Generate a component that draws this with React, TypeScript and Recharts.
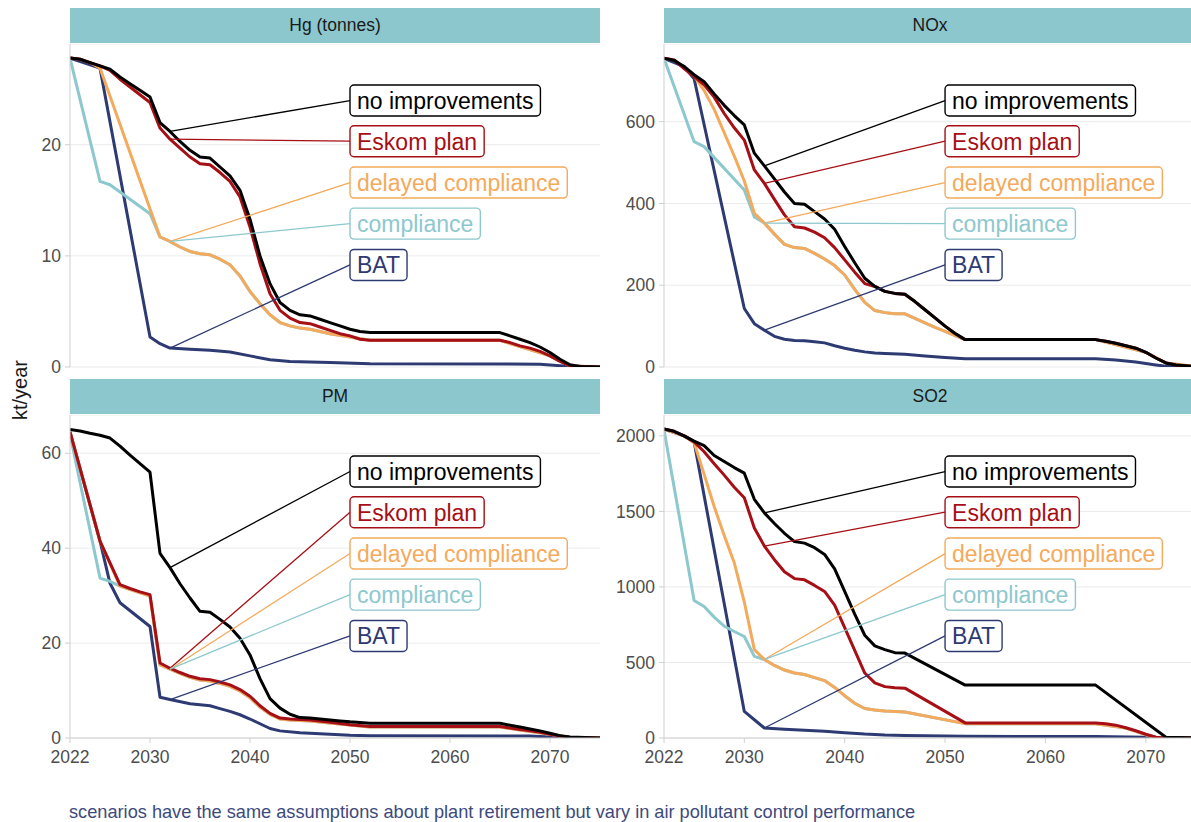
import React, { useLayoutEffect, useRef, useState } from 'react'
import { LineChart, Line, XAxis, YAxis, CartesianGrid, ReferenceLine, ReferenceDot } from 'recharts'

type Pt = [number, number]

const scenarios = ['no improvements', 'Eskom plan', 'delayed compliance', 'compliance', 'BAT']
const colors = ['#000000', '#a50f15', '#f4aa5c', '#8dc8ce', '#2e3a72']
const yearTicks = [2022, 2030, 2040, 2050, 2060, 2070]
const labelYear = 2032 // leaders point at the 2032 value

// Hg (tonnes)
const hgNoImprovements: Pt[] = [[2022, 27.8], [2023, 27.7], [2024, 27.4], [2025, 27.1], [2026, 26.8], [2027, 26.1], [2028, 25.5], [2029, 24.9], [2030, 24.3], [2031, 22.0], [2032, 21.2], [2033, 20.3], [2034, 19.5], [2035, 18.9], [2036, 18.8], [2037, 18.0], [2038, 17.2], [2039, 15.9], [2040, 13.3], [2041, 10.0], [2042, 7.5], [2043, 5.8], [2044, 5.1], [2045, 4.7], [2046, 4.6], [2047, 4.3], [2048, 4.0], [2049, 3.7], [2050, 3.4], [2051, 3.2], [2052, 3.1], [2065, 3.1], [2066, 2.8], [2067, 2.5], [2068, 2.2], [2069, 1.8], [2070, 1.3], [2071, 0.7], [2072, 0.2], [2073, 0.05], [2075, 0]]
const hgEskom: Pt[] = [[2022, 27.8], [2023, 27.7], [2024, 27.4], [2025, 27.1], [2026, 26.7], [2027, 25.9], [2028, 25.2], [2029, 24.5], [2030, 23.8], [2031, 21.5], [2032, 20.5], [2033, 19.7], [2034, 18.9], [2035, 18.3], [2036, 18.2], [2037, 17.5], [2038, 16.7], [2039, 15.3], [2040, 12.6], [2041, 9.3], [2042, 6.6], [2043, 5.1], [2044, 4.4], [2045, 4.0], [2046, 3.9], [2047, 3.6], [2048, 3.3], [2049, 3.0], [2050, 2.8], [2051, 2.5], [2052, 2.4], [2065, 2.4], [2066, 2.2], [2067, 1.9], [2068, 1.7], [2069, 1.4], [2070, 1.0], [2071, 0.5], [2072, 0.1], [2075, 0]]
const hgDelayed: Pt[] = [[2022, 27.8], [2023, 27.7], [2024, 27.4], [2025, 26.9], [2031, 11.7], [2032, 11.3], [2033, 10.8], [2034, 10.4], [2035, 10.2], [2036, 10.1], [2037, 9.7], [2038, 9.2], [2039, 8.2], [2040, 6.8], [2041, 5.7], [2042, 4.7], [2043, 4.0], [2044, 3.7], [2045, 3.5], [2046, 3.4], [2048, 3.0], [2050, 2.7], [2052, 2.4], [2065, 2.4], [2070, 1.0], [2072, 0.1], [2075, 0]]
const hgCompliance: Pt[] = [[2022, 27.8], [2025, 16.7], [2026, 16.4], [2030, 13.8], [2031, 11.7], [2032, 11.3], ...hgDelayed.filter(([y]) => y > 2032)]
const hgBat: Pt[] = [[2022, 27.8], [2025, 26.9], [2030, 2.7], [2031, 2.1], [2032, 1.7], [2034, 1.6], [2036, 1.5], [2038, 1.35], [2040, 1.0], [2042, 0.65], [2044, 0.5], [2048, 0.4], [2052, 0.3], [2069, 0.25], [2072, 0.05], [2075, 0]]
const hgTicks = [0, 10, 20]

// NOx
const noxNoImprovements: Pt[] = [[2022, 755], [2023, 750], [2024, 735], [2025, 715], [2026, 698], [2027, 668], [2028, 640], [2029, 615], [2030, 592], [2031, 523], [2032, 492], [2033, 460], [2034, 428], [2035, 400], [2036, 398], [2037, 380], [2038, 362], [2039, 337], [2040, 295], [2041, 255], [2042, 217], [2043, 197], [2044, 185], [2045, 180], [2046, 178], [2047, 160], [2048, 140], [2049, 120], [2050, 100], [2051, 82], [2052, 67], [2065, 67], [2066, 63], [2067, 58], [2068, 52], [2069, 46], [2070, 36], [2071, 22], [2072, 10], [2073, 5], [2075, 1]]
const noxEskom: Pt[] = [[2022, 755], [2023, 751], [2024, 730], [2025, 710], [2026, 690], [2027, 660], [2028, 620], [2029, 585], [2030, 555], [2031, 482], [2032, 449], [2033, 410], [2034, 372], [2035, 343], [2036, 340], [2037, 330], [2038, 316], [2039, 292], [2040, 262], [2041, 232], [2042, 204], [2043, 197], [2044, 185], [2045, 180], [2046, 178], [2047, 160], [2048, 140], [2049, 120], [2050, 100], [2051, 82], [2052, 67], [2065, 67], [2066, 63], [2067, 58], [2068, 52], [2069, 46], [2070, 36], [2071, 22], [2072, 10], [2073, 5], [2075, 1]]
const noxDelayed: Pt[] = [[2022, 755], [2023, 751], [2024, 733], [2025, 712], [2026, 676], [2027, 630], [2028, 573], [2029, 516], [2030, 455], [2031, 376], [2032, 352], [2033, 325], [2034, 300], [2035, 292], [2036, 290], [2037, 278], [2038, 264], [2039, 248], [2040, 225], [2041, 190], [2042, 158], [2043, 138], [2044, 133], [2045, 130], [2046, 130], [2047, 119], [2048, 108], [2049, 97], [2050, 87], [2051, 77], [2052, 67], [2065, 67], [2070, 36], [2072, 10], [2075, 1]]
const noxCompliance: Pt[] = [[2022, 755], [2025, 551], [2026, 539], [2030, 433], [2031, 367], [2032, 352], ...noxDelayed.filter(([y]) => y > 2032)]
const noxBat: Pt[] = [[2022, 755], [2024, 735], [2025, 705], [2030, 143], [2031, 106], [2032, 90], [2033, 75], [2034, 68], [2035, 65], [2036, 64], [2037, 62], [2038, 59], [2039, 52], [2040, 46], [2041, 41], [2042, 37], [2043, 34], [2044, 33], [2046, 31], [2048, 27], [2050, 23], [2052, 20], [2065, 20], [2067, 17], [2069, 12], [2071, 5], [2072, 2], [2075, 0]]
const noxTicks = [0, 200, 400, 600]

// PM
const pmNoImprovements: Pt[] = [[2022, 65], [2023, 64.7], [2024, 64.2], [2025, 63.8], [2026, 63.2], [2027, 61.5], [2028, 59.6], [2029, 57.8], [2030, 56.0], [2031, 38.9], [2032, 35.9], [2033, 32.5], [2034, 29.5], [2035, 26.7], [2036, 26.5], [2037, 25.0], [2038, 23.4], [2039, 21.0], [2040, 17.5], [2041, 12.5], [2042, 8.3], [2043, 6.3], [2044, 5.0], [2045, 4.3], [2046, 4.2], [2047, 4.0], [2048, 3.8], [2049, 3.6], [2050, 3.4], [2052, 3.1], [2065, 3.1], [2066, 2.7], [2067, 2.3], [2068, 1.9], [2069, 1.5], [2070, 1.0], [2071, 0.5], [2072, 0.2], [2075, 0]]
const pmEskom: Pt[] = [[2022, 64.5], [2025, 41.5], [2027, 32.3], [2028, 31.5], [2029, 30.8], [2030, 30.2], [2031, 15.8], [2032, 14.7], [2033, 13.8], [2034, 13.0], [2035, 12.5], [2036, 12.3], [2037, 11.8], [2038, 11.2], [2039, 10.2], [2040, 8.8], [2041, 6.8], [2042, 5.2], [2043, 4.2], [2044, 4.0], [2045, 3.9], [2046, 3.8], [2048, 3.3], [2050, 2.8], [2052, 2.4], [2065, 2.4], [2066, 2.1], [2067, 1.8], [2068, 1.5], [2069, 1.2], [2070, 0.8], [2071, 0.4], [2072, 0.1], [2075, 0]]
const pmDelayed: Pt[] = [[2022, 64.5], [2025, 41.5], [2027, 32.0], [2030, 29.9], [2031, 15.4], [2032, 14.5], [2033, 13.6], [2034, 12.8], [2035, 12.2], [2036, 12.0], [2037, 11.5], [2038, 10.9], [2039, 9.9], [2040, 8.5], [2041, 6.5], [2042, 5.0], [2043, 4.0], [2044, 3.8], [2045, 3.7], [2046, 3.6], [2052, 2.3], [2065, 2.3], [2070, 0.8], [2072, 0.1], [2075, 0]]
const pmCompliance: Pt[] = [[2022, 64.0], [2025, 33.7], [2026, 33.0], [2027, 32.0], ...pmDelayed.filter(([y]) => y >= 2030)]
const pmBat: Pt[] = [[2022, 64.5], [2025, 41.5], [2026, 32.6], [2027, 28.5], [2030, 23.5], [2031, 8.6], [2032, 8.1], [2034, 7.2], [2035, 7.0], [2036, 6.8], [2037, 6.2], [2038, 5.6], [2039, 4.9], [2040, 4.0], [2041, 3.0], [2042, 2.0], [2043, 1.5], [2045, 1.1], [2050, 0.6], [2052, 0.5], [2068, 0.4], [2070, 0.2], [2072, 0.05], [2075, 0]]
const pmTicks = [0, 20, 40, 60]

// SO2
const so2NoImprovements: Pt[] = [[2022, 2045], [2023, 2030], [2024, 2000], [2025, 1965], [2026, 1935], [2027, 1870], [2028, 1830], [2029, 1790], [2030, 1753], [2031, 1580], [2032, 1490], [2033, 1420], [2034, 1355], [2035, 1300], [2036, 1290], [2037, 1260], [2038, 1215], [2039, 1120], [2040, 970], [2041, 820], [2042, 680], [2043, 610], [2044, 585], [2045, 565], [2046, 562], [2052, 350], [2065, 350], [2072, 5], [2075, 0]]
const so2Eskom: Pt[] = [[2022, 2045], [2023, 2030], [2024, 2000], [2025, 1960], [2026, 1895], [2027, 1815], [2028, 1740], [2029, 1660], [2030, 1590], [2031, 1390], [2032, 1270], [2033, 1180], [2034, 1100], [2035, 1055], [2036, 1047], [2037, 1010], [2038, 970], [2039, 880], [2040, 730], [2041, 580], [2042, 430], [2043, 365], [2044, 340], [2045, 332], [2046, 330], [2052, 100], [2065, 100], [2066, 95], [2067, 85], [2068, 68], [2069, 48], [2070, 25], [2071, 5], [2072, 0], [2075, 0]]
const so2Delayed: Pt[] = [[2022, 2045], [2024, 2000], [2025, 1955], [2026, 1745], [2027, 1532], [2028, 1340], [2029, 1160], [2030, 900], [2031, 585], [2032, 520], [2033, 480], [2034, 450], [2035, 430], [2036, 420], [2037, 400], [2038, 380], [2039, 335], [2040, 280], [2041, 230], [2042, 195], [2043, 185], [2044, 178], [2045, 175], [2046, 172], [2052, 95], [2065, 95], [2068, 66], [2070, 22], [2071, 5], [2072, 0], [2075, 0]]
const so2Compliance: Pt[] = [[2022, 2040], [2025, 910], [2026, 870], [2027, 800], [2028, 740], [2029, 705], [2030, 672], [2031, 540], [2032, 520], ...so2Delayed.filter(([y]) => y > 2032)]
const so2Bat: Pt[] = [[2022, 2045], [2024, 2000], [2025, 1960], [2030, 176], [2031, 121], [2032, 66], [2034, 58], [2036, 52], [2038, 44], [2040, 35], [2042, 26], [2044, 20], [2046, 17], [2052, 11], [2065, 10], [2070, 5], [2072, 0], [2075, 0]]
const so2Ticks = [0, 500, 1000, 1500, 2000]

const FONT = "'Liberation Sans', Arial, Helvetica, sans-serif"
const AXIS_GREY = '#cfcfcf'
const STRIP_FILL = '#8cc7cd'

// layout (px)
const CHART_X = [0, 600]
const CHART_W = [600, 596]
const Y_AXIS_W = [70, 64]
const STRIP_X = [70, 664]
const STRIP_W = [530, 532]
const STRIP_TOP = [8, 379]
const STRIP_H = 35
const CHART_TOP = [44, 415]
const PLOT_H = 323
const X_AXIS_H = 45
const TOP_PAD = 12 // room under the top panels for the "0" tick label
const LABEL_ROWS = [0.175, 0.301, 0.429, 0.556, 0.684] // fraction of plot height, from the top
const LABEL_YEAR_X = 2050

interface PanelDef {
  title: string
  series: Pt[][]
  yMax: number
  yTicks: number[]
  col: number
  row: number
}

const panels: PanelDef[] = [
  { title: 'Hg (tonnes)', series: [hgNoImprovements, hgEskom, hgDelayed, hgCompliance, hgBat], yMax: 29.07, yTicks: hgTicks, col: 0, row: 0 },
  { title: 'NOx', series: [noxNoImprovements, noxEskom, noxDelayed, noxCompliance, noxBat], yMax: 790, yTicks: noxTicks, col: 1, row: 0 },
  { title: 'PM', series: [pmNoImprovements, pmEskom, pmDelayed, pmCompliance, pmBat], yMax: 68.06, yTicks: pmTicks, col: 0, row: 1 },
  { title: 'SO2', series: [so2NoImprovements, so2Eskom, so2Delayed, so2Compliance, so2Bat], yMax: 2138, yTicks: so2Ticks, col: 1, row: 1 },
]

function LabelBox({ cx, cy, text, color }: { cx: number; cy: number; text: string; color: string }) {
  const ref = useRef<SVGTextElement>(null)
  const [w, setW] = useState(0)
  useLayoutEffect(() => {
    if (ref.current) setW(ref.current.getBBox().width)
  }, [text])
  const padX = 7
  const h = 31
  return (
    <g>
      <rect x={cx} y={cy - h / 2} width={w + padX * 2} height={h} rx={4} ry={4} fill="#ffffff" stroke={color} strokeWidth={1.4} />
      <text ref={ref} x={cx + padX} y={cy} dy="0.36em" fontSize={23} fill={color} fontFamily={FONT}>{text}</text>
    </g>
  )
}

function Panel({ p }: { p: PanelDef }) {
  const bottom = p.row === 1
  const drawOrder = [4, 3, 2, 1, 0]
  const tickStyle = { fontSize: 17.5, fill: '#4d4d4d', fontFamily: FONT }
  return (
    <>
      <div style={{ position: 'absolute', left: STRIP_X[p.col], top: STRIP_TOP[p.row], width: STRIP_W[p.col], height: STRIP_H, background: STRIP_FILL, display: 'flex', alignItems: 'center', justifyContent: 'center', fontSize: 17.5, color: '#1a1a1a', fontFamily: FONT }}>
        {p.title}
      </div>
      <div style={{ position: 'absolute', left: CHART_X[p.col], top: CHART_TOP[p.row] }}>
        <LineChart
          width={CHART_W[p.col]}
          height={PLOT_H + (bottom ? X_AXIS_H : TOP_PAD)}
          margin={{ top: 0, right: 0, bottom: bottom ? 0 : TOP_PAD, left: 0 }}
        >
          <CartesianGrid vertical={false} stroke="#ebebeb" strokeWidth={1} />
          <XAxis
            type="number" dataKey="year" domain={[2022, 2075]} ticks={yearTicks} allowDataOverflow interval={0}
            hide={!bottom} height={bottom ? X_AXIS_H : 0}
            tick={tickStyle} tickSize={5} tickMargin={8}
            tickLine={{ stroke: AXIS_GREY }} axisLine={{ stroke: AXIS_GREY }}
          />
          <YAxis
            type="number" domain={[0, p.yMax]} ticks={p.yTicks} allowDataOverflow interval={0} width={Y_AXIS_W[p.col]}
            tick={tickStyle} tickSize={5} tickMargin={4}
            tickLine={{ stroke: AXIS_GREY }} axisLine={{ stroke: AXIS_GREY }}
          />
          {drawOrder.map(i => (
            <Line
              key={scenarios[i]}
              data={p.series[i].map(([year, v]) => ({ year, v }))}
              dataKey="v" type="linear" stroke={colors[i]} strokeWidth={3}
              strokeLinejoin="round" dot={false} activeDot={false} isAnimationActive={false}
            />
          ))}
          {scenarios.map((s, i) => {
            const end = p.series[i].find(([y]) => y === labelYear)
            const anchorY = p.yMax * (1 - LABEL_ROWS[i])
            return (
              <ReferenceLine
                key={'lead-' + s}
                segment={[{ x: labelYear, y: end ? end[1] : 0 }, { x: LABEL_YEAR_X, y: anchorY }]}
                stroke={colors[i]} strokeWidth={1.3} ifOverflow="visible"
              />
            )
          })}
          {scenarios.map((s, i) => (
            <ReferenceDot
              key={'box-' + s}
              x={LABEL_YEAR_X} y={p.yMax * (1 - LABEL_ROWS[i])} r={0} ifOverflow="visible"
              shape={(props: any) => <LabelBox cx={props.cx} cy={props.cy} text={s} color={colors[i]} />}
            />
          ))}
        </LineChart>
      </div>
    </>
  )
}

export default function App() {
  return (
    <div style={{ position: 'absolute', left: 0, top: 0, width: 1191, height: 822, overflow: 'hidden', background: '#ffffff', fontFamily: FONT }}>
      {panels.map(p => <Panel key={p.title} p={p} />)}
      <div style={{ position: 'absolute', left: 20, top: 390, transform: 'translate(-50%, -50%) rotate(-90deg)', fontSize: 20, color: '#1a1a1a', whiteSpace: 'nowrap' }}>
        kt/year
      </div>
      <div style={{ position: 'absolute', left: 69, top: 802, fontSize: 18.2, color: '#3d4a7d', whiteSpace: 'nowrap' }}>
        scenarios have the same assumptions about plant retirement but vary in air pollutant control performance
      </div>
    </div>
  )
}
